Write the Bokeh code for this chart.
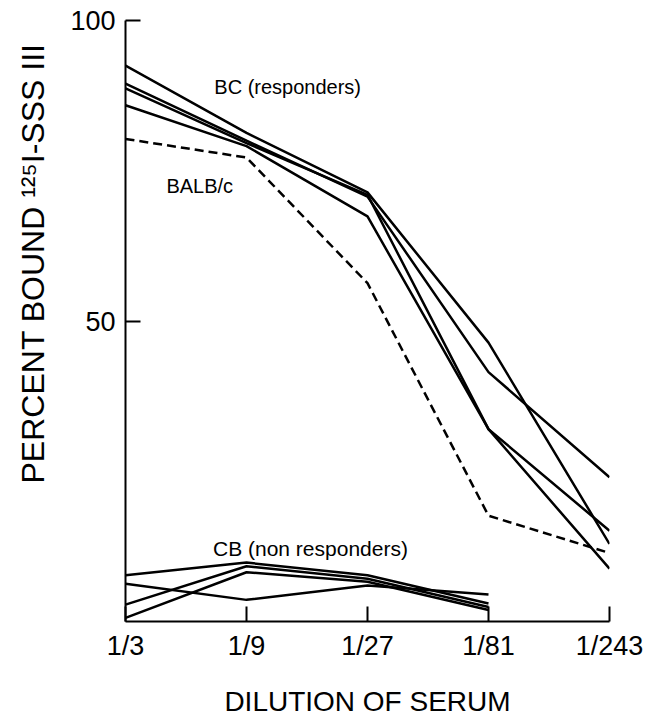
from bokeh.plotting import figure
from bokeh.models import Range1d, FixedTicker, Label, Title
from bokeh.embed import file_html
from bokeh.resources import INLINE

# ---- data ----
dilutions = ["1/3", "1/9", "1/27", "1/81", "1/243"]
x_pos = [0, 1, 2, 3, 4]

bc_a = [92.5, 81.3, 71.4, 46.4, 12.9]
bc_b = [89.5, 80.0, 70.7, 41.5, 24.0]
bc_c = [88.7, 79.6, 71.0, 32.0, 15.1]
bc_d = [85.9, 79.1, 67.4, 32.0, 8.8]
balbc = [80.3, 77.2, 56.3, 17.6, 11.4]

cb_e = [7.7, 9.8, 7.7, 3.0]
cb_f = [6.3, 3.6, 6.0, 4.5]
cb_g = [2.8, 9.2, 7.1, 2.4]
cb_h = [0.6, 8.2, 6.6, 1.9]

y_ticks = [50, 100]

FONT = "Liberation Sans"

p = figure(width=646, height=719, output_backend="svg", toolbar_location=None,
           x_range=Range1d(0, 4), y_range=Range1d(0, 100),
           min_border_left=124, min_border_right=37, min_border_top=20,
           min_border_bottom=96)
p.outline_line_color = None
p.xgrid.visible = False
p.ygrid.visible = False
p.background_fill_color = "white"
p.border_fill_color = "white"

for ys in [bc_a, bc_b, bc_c, bc_d]:
    p.line(x_pos, ys, line_color="black", line_width=2.5)
p.line(x_pos, balbc, line_color="black", line_width=2.5, line_dash="9 5")
for ys in [cb_e, cb_f, cb_g, cb_h]:
    p.line(x_pos[:len(ys)], ys, line_color="black", line_width=2.5)

# axes
p.xaxis.ticker = FixedTicker(ticks=x_pos)
p.xaxis.major_label_overrides = {x: lab for x, lab in zip(x_pos, dilutions)}
p.yaxis.ticker = FixedTicker(ticks=y_ticks)
for ax in (p.xaxis, p.yaxis):
    ax.axis_line_width = 2
    ax.axis_line_color = "black"
    ax.major_tick_line_width = 2
    ax.major_tick_line_color = "black"
    ax.major_tick_in = 15
    ax.major_tick_out = 0
    ax.minor_tick_line_color = None
    ax.major_label_text_font = FONT
    ax.major_label_text_font_size = "27px"
    ax.major_label_text_color = "black"
p.xaxis.major_label_standoff = 9
p.yaxis.major_label_standoff = 10

p.xaxis.axis_label = "DILUTION OF SERUM"
p.xaxis.axis_label_text_font = FONT
p.xaxis.axis_label_text_font_size = "28px"
p.xaxis.axis_label_text_font_style = "normal"
p.xaxis.axis_label_text_color = "black"
p.xaxis.axis_label_standoff = 22

# y title as a side title (rotated), anchored near the top of the frame
p.add_layout(Title(text="PERCENT BOUND \u00b9\u00b2\u2075I-SSS III", align="right",
                   offset=23, vertical_align="top", standoff=29,
                   text_font=FONT, text_font_size="32px", text_font_style="normal",
                   text_color="black"), "left")

# annotations
p.add_layout(Label(x=0.734, y=88.9, text="BC (responders)", text_font=FONT,
                   text_font_size="20px", text_baseline="alphabetic", text_color="black"))
p.add_layout(Label(x=0.338, y=72.4, text="BALB/c", text_font=FONT,
                   text_font_size="20px", text_baseline="alphabetic", text_color="black"))
p.add_layout(Label(x=0.723, y=12.1, text="CB (non responders)", text_font=FONT,
                   text_font_size="21px", text_baseline="alphabetic", text_color="black"))

open("out.html", "w").write(file_html(p, INLINE))
